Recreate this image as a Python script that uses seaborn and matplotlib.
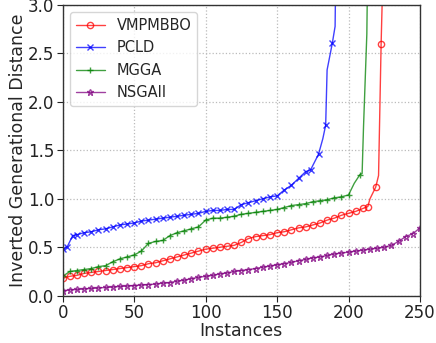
import matplotlib
matplotlib.use("Agg")
import matplotlib.pyplot as plt
import seaborn as sns

# ---- data ----
vmp_x = [0, 5, 10, 15, 20, 25, 30, 35, 40, 45, 50, 55, 60, 65, 70, 75, 80, 85, 90, 95,
         100, 105, 110, 115, 120, 125, 130, 135, 140, 145, 150, 155, 160, 165, 170, 175,
         180, 185, 190, 195, 200, 205, 210, 213.5, 215, 219, 221, 222.8, 224]
vmp_y = [0.18, 0.20, 0.21, 0.23, 0.24, 0.25, 0.26, 0.27, 0.28, 0.29, 0.30, 0.31, 0.33,
         0.34, 0.36, 0.38, 0.40, 0.42, 0.44, 0.46, 0.48, 0.49, 0.50, 0.51, 0.52, 0.55,
         0.59, 0.61, 0.62, 0.63, 0.65, 0.66, 0.68, 0.70, 0.71, 0.73, 0.75, 0.78, 0.80,
         0.83, 0.85, 0.87, 0.90, 0.92, 1.00, 1.12, 1.24, 2.60, 3.30]

pcld_x = [0, 3, 7, 10, 15, 20, 25, 30, 35, 40, 45, 50, 55, 60, 65, 70, 75, 80, 85, 90,
          95, 100, 105, 110, 115, 120, 125, 130, 135, 140, 145, 150, 155, 160, 165, 170,
          173.5, 179, 182, 184, 185, 188.7, 190.6, 191]
pcld_y = [0.48, 0.50, 0.62, 0.63, 0.65, 0.66, 0.68, 0.69, 0.71, 0.73, 0.74, 0.75, 0.77,
          0.78, 0.79, 0.80, 0.81, 0.82, 0.83, 0.84, 0.85, 0.87, 0.88, 0.88, 0.89, 0.89,
          0.94, 0.96, 0.98, 1.00, 1.02, 1.03, 1.09, 1.14, 1.21, 1.28, 1.30, 1.46, 1.62,
          1.76, 2.33, 2.61, 2.78, 3.30]

mgga_x = [0, 5, 10, 15, 20, 25, 30, 35, 40, 45, 50, 55, 60, 65, 70, 75, 80, 85, 90, 95,
          100, 105, 110, 115, 120, 125, 130, 135, 140, 145, 150, 155, 160, 165, 170, 175,
          180, 185, 190, 195, 200, 204, 208, 209.5, 210.5, 212.8, 213.3]
mgga_y = [0.20, 0.25, 0.26, 0.27, 0.28, 0.30, 0.31, 0.35, 0.38, 0.40, 0.42, 0.46, 0.54,
          0.56, 0.57, 0.62, 0.65, 0.67, 0.69, 0.71, 0.78, 0.80, 0.80, 0.81, 0.82, 0.84,
          0.85, 0.86, 0.87, 0.88, 0.89, 0.91, 0.93, 0.94, 0.95, 0.97, 0.98, 0.99, 1.01,
          1.02, 1.04, 1.16, 1.25, 1.26, 1.75, 2.70, 3.30]

nsga_x = list(range(0, 251, 5))
nsga_y = [0.05, 0.06, 0.065, 0.07, 0.075, 0.08, 0.085, 0.09, 0.095, 0.10, 0.105, 0.11,
          0.115, 0.12, 0.13, 0.135, 0.15, 0.16, 0.175, 0.19, 0.20, 0.21, 0.225, 0.235,
          0.25, 0.26, 0.27, 0.28, 0.295, 0.305, 0.32, 0.33, 0.345, 0.36, 0.375, 0.39,
          0.40, 0.415, 0.43, 0.44, 0.45, 0.46, 0.47, 0.48, 0.49, 0.50, 0.52, 0.56, 0.61,
          0.64, 0.70]

# points on the curves that carry no marker (bends of the steep rises)
vmp_plain = [215, 221, 224]
pcld_plain = [182, 185, 190.6, 191]
mgga_plain = [204, 209.5, 210.5, 212.8, 213.3]
nsga_plain = []

x_ticks = [0, 50, 100, 150, 200, 250]
y_ticks = [0.0, 0.5, 1.0, 1.5, 2.0, 2.5, 3.0]

sns.set_style("white")
plt.rcParams['font.family'] = ['DejaVu Sans']

fig = plt.figure(figsize=(4.36, 3.43), dpi=100)
ax = fig.add_axes([0.1438, 0.1379, 0.8195, 0.8475])

series = [
    ("VMPMBBO", vmp_x, vmp_y, vmp_plain, "red", "o"),
    ("PCLD", pcld_x, pcld_y, pcld_plain, "blue", "x"),
    ("MGGA", mgga_x, mgga_y, mgga_plain, "green", "+"),
    ("NSGAII", nsga_x, nsga_y, nsga_plain, "purple", "*"),
]
for name, xs, ys, plain, col, mk in series:
    idx = [i for i, v in enumerate(xs) if v not in plain]
    sns.lineplot(x=xs, y=ys, ax=ax, color=col, marker=mk, label=name,
                 markevery=idx, linewidth=1.0, alpha=0.75,
                 markersize=4.5,
                 markerfacecolor="none" if mk in ("o", "*") else col,
                 markeredgecolor=col, markeredgewidth=1.0, sort=False)

ax.set_xlim(0, 250)
ax.set_ylim(0, 3.0)
ax.set_xticks(x_ticks)
ax.set_yticks(y_ticks)
ax.set_yticklabels([f"{v:.1f}" for v in y_ticks])
ax.tick_params(axis="both", labelsize=12, length=4, direction="out", bottom=True, left=True,
               colors="#222222", labelcolor="#222222", pad=2)
ax.set_xlabel("Instances", fontsize=12.5, labelpad=0)
ax.set_ylabel("Inverted Generational Distance", fontsize=12.5, labelpad=1)
ax.grid(True, linestyle=":", color="#bbbbbb", linewidth=0.9)
for s in ax.spines.values():
    s.set_color("#333333")
    s.set_linewidth(1.0)

leg = ax.legend(loc="upper left", fontsize=10.5, frameon=True, fancybox=True,
                framealpha=0.8, edgecolor="#cccccc", handlelength=2.0,
                borderaxespad=0.5, labelspacing=0.5)

fig.savefig("out.png", dpi=100)
